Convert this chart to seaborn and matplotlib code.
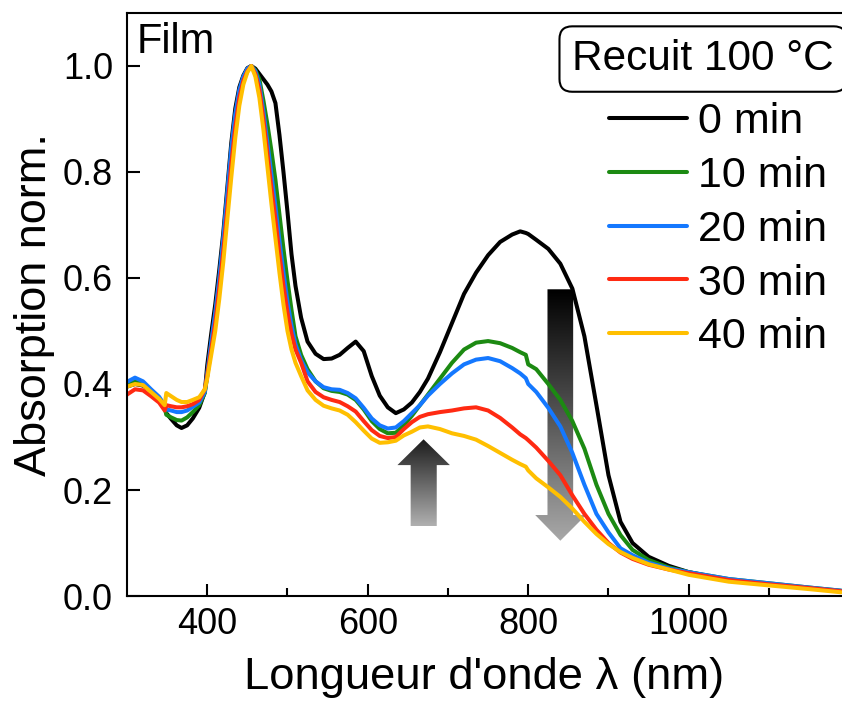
import numpy as np
import pandas as pd
import matplotlib
matplotlib.use("Agg")
import matplotlib.pyplot as plt
from matplotlib.colors import LinearSegmentedColormap
from matplotlib.patches import Polygon
from matplotlib.ticker import FormatStrFormatter
import seaborn as sns

# ── Data ──────────────────────────────────────────────
wavelength = [300, 310, 320, 330, 340, 347, 349, 355, 362, 368,
              375, 382, 390, 397, 400, 405, 410, 415, 420, 425,
              430, 435, 440, 445, 450, 455, 460, 465, 470, 475,
              480, 485, 490, 495, 500, 505, 510, 517, 525, 535,
              545, 555, 565, 575, 585, 595, 605, 615, 625, 635,
              645, 655, 665, 675, 690, 705, 720, 735, 750, 765,
              780, 790, 797, 800, 810, 825, 840, 855, 870, 885,
              900, 915, 930, 950, 975, 1000, 1050, 1100, 1150, 1190]

abs_0min = [0.395, 0.400, 0.397, 0.387, 0.372, 0.355, 0.345, 0.334, 0.322, 0.317,
            0.322, 0.335, 0.355, 0.385, 0.435, 0.495, 0.550, 0.615, 0.685, 0.770,
            0.855, 0.920, 0.960, 0.982, 0.996, 1.000, 0.995, 0.985, 0.975, 0.965,
            0.952, 0.930, 0.870, 0.800, 0.725, 0.645, 0.585, 0.525, 0.480, 0.457,
            0.447, 0.448, 0.455, 0.468, 0.480, 0.462, 0.415, 0.378, 0.356, 0.345,
            0.352, 0.365, 0.385, 0.410, 0.460, 0.515, 0.570, 0.610, 0.643, 0.668,
            0.682, 0.688, 0.685, 0.683, 0.672, 0.655, 0.627, 0.580, 0.490, 0.360,
            0.228, 0.140, 0.100, 0.074, 0.057, 0.045, 0.030, 0.022, 0.015, 0.009]

abs_10min = [0.398, 0.405, 0.400, 0.387, 0.372, 0.355, 0.342, 0.337, 0.332, 0.331,
             0.337, 0.347, 0.360, 0.383, 0.415, 0.475, 0.530, 0.595, 0.670, 0.755,
             0.840, 0.905, 0.950, 0.978, 0.994, 1.000, 0.992, 0.975, 0.935, 0.890,
             0.840, 0.785, 0.720, 0.655, 0.595, 0.540, 0.490, 0.455, 0.428, 0.405,
             0.392, 0.387, 0.385, 0.380, 0.370, 0.352, 0.330, 0.315, 0.307, 0.308,
             0.322, 0.340, 0.360, 0.380, 0.410, 0.440, 0.465, 0.478, 0.481, 0.477,
             0.468, 0.460, 0.455, 0.437, 0.428, 0.400, 0.370, 0.330, 0.278, 0.210,
             0.155, 0.115, 0.087, 0.068, 0.054, 0.045, 0.032, 0.024, 0.016, 0.010]

abs_20min = [0.404, 0.412, 0.405, 0.390, 0.376, 0.360, 0.352, 0.350, 0.347, 0.347,
             0.350, 0.357, 0.365, 0.385, 0.420, 0.480, 0.535, 0.600, 0.675, 0.760,
             0.845, 0.910, 0.955, 0.980, 0.995, 1.000, 0.990, 0.965, 0.915, 0.855,
             0.795, 0.735, 0.670, 0.610, 0.555, 0.510, 0.475, 0.445, 0.422, 0.405,
             0.394, 0.390, 0.389, 0.383, 0.373, 0.355, 0.335, 0.322, 0.316, 0.318,
             0.330, 0.345, 0.360, 0.378, 0.400, 0.420, 0.437, 0.446, 0.449, 0.443,
             0.430, 0.420, 0.411, 0.400, 0.385, 0.355, 0.320, 0.270, 0.210, 0.155,
             0.120, 0.090, 0.077, 0.063, 0.052, 0.045, 0.032, 0.024, 0.016, 0.010]

abs_30min = [0.380, 0.390, 0.388, 0.377, 0.365, 0.350, 0.360, 0.358, 0.356, 0.356,
             0.358, 0.362, 0.370, 0.390, 0.415, 0.465, 0.515, 0.580, 0.650, 0.730,
             0.815, 0.885, 0.940, 0.972, 0.990, 1.000, 0.985, 0.955, 0.900, 0.835,
             0.770, 0.710, 0.645, 0.585, 0.535, 0.495, 0.465, 0.440, 0.405, 0.385,
             0.375, 0.370, 0.366, 0.358, 0.348, 0.330, 0.313, 0.302, 0.298, 0.300,
             0.315, 0.328, 0.338, 0.343, 0.347, 0.350, 0.354, 0.356, 0.350, 0.336,
             0.318, 0.305, 0.298, 0.294, 0.280, 0.255, 0.228, 0.190, 0.155, 0.125,
             0.100, 0.082, 0.070, 0.059, 0.050, 0.043, 0.030, 0.022, 0.015, 0.009]

abs_40min = [0.395, 0.400, 0.398, 0.385, 0.372, 0.360, 0.383, 0.377, 0.370, 0.366,
             0.366, 0.370, 0.375, 0.390, 0.410, 0.455, 0.500, 0.560, 0.630, 0.710,
             0.790, 0.865, 0.925, 0.965, 0.988, 1.000, 0.980, 0.940, 0.880, 0.810,
             0.740, 0.675, 0.610, 0.550, 0.500, 0.465, 0.440, 0.415, 0.388, 0.370,
             0.359, 0.354, 0.350, 0.342, 0.328, 0.312, 0.297, 0.289, 0.290, 0.293,
             0.303, 0.310, 0.318, 0.320, 0.315, 0.307, 0.302, 0.295, 0.283, 0.270,
             0.257, 0.249, 0.244, 0.237, 0.222, 0.205, 0.187, 0.165, 0.140, 0.117,
             0.098, 0.083, 0.072, 0.060, 0.050, 0.040, 0.027, 0.020, 0.013, 0.007]

durations = ["0 min", "10 min", "20 min", "30 min", "40 min"]
colors = ["#000000", "#1c8a12", "#1478ff", "#ff2a12", "#ffbf00"]

y_ticks = [0.0, 0.2, 0.4, 0.6, 0.8, 1.0]
x_major = [400, 600, 800, 1000]
x_minor = [500, 700, 900, 1100]


# ── Helpers ───────────────────────────────────────────
def gradient_arrow(ax, verts, top_color, bottom_color):
    cmap = LinearSegmentedColormap.from_list("arrow", [bottom_color, top_color])
    poly = Polygon(verts, closed=True, fc="none", ec="none")
    ax.add_patch(poly)
    xs = [v[0] for v in verts]
    ys = [v[1] for v in verts]
    grad = np.linspace(0, 1, 256).reshape(-1, 1)
    im = ax.imshow(grad, cmap=cmap, origin="lower", aspect="auto",
                   extent=(min(xs), max(xs), min(ys), max(ys)), zorder=1)
    im.set_clip_path(poly)


# ── Plot ──────────────────────────────────────────────
sns.set_theme(style="ticks")
plt.rcParams["font.family"] = ["Liberation Sans", "DejaVu Sans"]
plt.rcParams["text.color"] = "black"
plt.rcParams["axes.labelcolor"] = "black"

series = [abs_0min, abs_10min, abs_20min, abs_30min, abs_40min]
df = pd.concat(
    [pd.DataFrame({"wl": wavelength, "absorb": vals, "time": lab})
     for lab, vals in zip(durations, series)],
    ignore_index=True,
)

fig = plt.figure(figsize=(8.42, 7.06), dpi=100)
ax = fig.add_axes([0.1508, 0.1558, 0.8492, 0.8258])

sns.lineplot(data=df, x="wl", y="absorb", hue="time", hue_order=durations,
             palette=dict(zip(durations, colors)), estimator=None, sort=False,
             lw=2.9, legend=False, ax=ax, zorder=2)

# arrows (red-shifted band grows, NIR band drops)
gradient_arrow(ax, [(653.5, 0.132), (686, 0.132), (686, 0.247), (702.4, 0.247),
                    (669.6, 0.2957), (637, 0.247), (653.5, 0.247)],
               "#1c1c1c", "#b0b0b0")
gradient_arrow(ax, [(824, 0.5787), (856, 0.5787), (856, 0.1528), (872, 0.1528),
                    (840, 0.1043), (808.7, 0.1528), (824, 0.1528)],
               "#000000", "#a8a8a8")

ax.set_xlim(300, 1191)
ax.set_ylim(0, 1.1)
ax.set_xticks(x_major)
ax.set_xticks(x_minor, minor=True)
ax.set_yticks(y_ticks)
ax.yaxis.set_major_formatter(FormatStrFormatter("%.1f"))
ax.tick_params(which="major", direction="in", length=9, width=1.5,
               labelsize=26, color="black", labelcolor="black")
ax.tick_params(which="minor", direction="in", length=6, width=1.5, color="black")
ax.tick_params(axis="x", pad=8)
ax.tick_params(axis="y", pad=10)

for side in ["left", "bottom", "top"]:
    ax.spines[side].set_linewidth(1.5)
    ax.spines[side].set_color("black")
ax.spines["right"].set_visible(False)

ax.set_xlabel("Longueur d'onde λ (nm)", fontsize=32.7, labelpad=11)
ax.set_ylabel("Absorption norm.", fontsize=32.5, labelpad=6)

ax.text(0.013, 0.985, "Film", transform=ax.transAxes, fontsize=30,
        ha="left", va="top")
ax.text(0.8056, 0.921, "Recuit 100 °C", transform=ax.transAxes, fontsize=30.5,
        ha="center", va="center",
        bbox=dict(boxstyle="round,pad=0.3,rounding_size=0.3", fc="white",
                  ec="black", lw=1.5))

ax.legend(handles=ax.get_lines()[:5], labels=durations, loc="upper left",
          bbox_to_anchor=(0.674, 0.847), frameon=False, fontsize=31,
          handlelength=1.81, handletextpad=0.26, labelspacing=0.32,
          borderpad=0, borderaxespad=0)

fig.savefig("out.png", dpi=100)
